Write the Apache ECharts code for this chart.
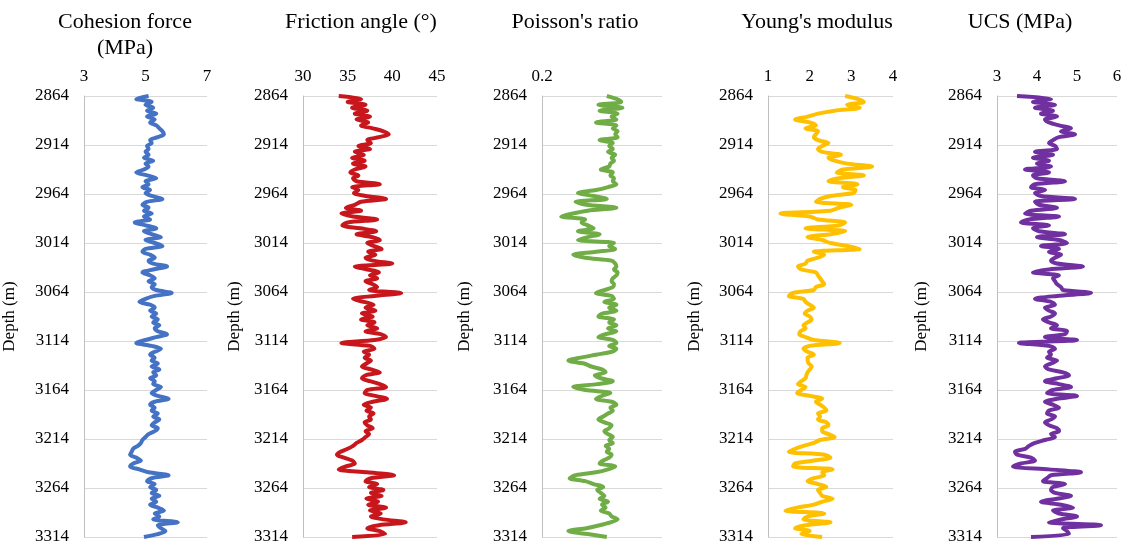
<!DOCTYPE html>
<html>
<head>
<meta charset="utf-8">
<script src="https://cdn.jsdelivr.net/npm/echarts@6/dist/echarts.min.js"></script>
<style>
  html, body { margin: 0; padding: 0; background: #ffffff; }
  #chart { width: 1127px; height: 548px; }
</style>
</head>
<body>
<div id="chart"></div>
<script>
// Well log: depth samples every 3 m from 2864 m to 3314 m
const depthTop = 2864;
const depthBottom = 3314;
const depthStep = 3;
const depths = [];
for (let d = depthTop; d <= depthBottom; d += depthStep) depths.push(d);

// Cohesion force (MPa)
const cohesion = [
  5.1, 4.7, 5.2, 5.0, 5.25, 5.05, 5.35, 5.05, 5.3, 5.15,
  5.35, 5.45, 5.55, 5.6, 5.4, 5.15, 5.2, 5.05, 5.1, 5.0,
  5.1, 4.95, 5.25, 5.0, 5.1, 4.95, 4.7, 5.05, 5.35, 5.0,
  5.1, 4.9, 5.15, 5.0, 5.2, 5.55, 5.05, 4.9, 5.1, 4.95,
  5.2, 4.95, 5.15, 4.65, 5.0, 5.35, 4.95, 5.2, 5.5, 5.0,
  5.3, 5.55, 5.0, 4.9, 5.15, 5.3, 5.1, 5.25, 5.7, 5.25,
  4.9, 5.15, 5.3, 5.1, 5.3, 5.2, 5.35, 5.85, 5.3, 5.0,
  4.8, 5.15, 5.3, 5.15, 5.35, 5.2, 5.4, 5.25, 5.45, 5.3,
  5.4, 5.7, 5.35, 5.0, 4.7, 5.2, 5.5, 5.3, 5.15, 5.3,
  5.2, 5.4, 5.2, 5.45, 5.25, 5.35, 5.15, 5.3, 5.25, 5.5,
  5.35, 5.2, 5.4, 5.75, 5.3, 5.15, 5.3, 5.2, 5.4, 5.25,
  5.45, 5.3, 5.2, 5.4, 5.3, 5.1, 5.0, 4.9, 4.85, 4.75,
  4.6, 4.55, 4.5, 4.7, 4.85, 4.6, 4.5, 4.8, 5.1, 5.75,
  5.2, 5.05, 5.3, 5.15, 5.35, 5.2, 5.45, 5.2, 5.35, 5.15,
  5.4, 5.6, 5.3, 5.45, 5.25, 6.05, 5.4, 5.5, 5.65, 5.4,
  4.95
];

// Friction angle (degrees)
const friction = [
  34.0, 36.5, 35.0, 37.0, 35.5, 37.2, 35.8, 37.5, 36.0, 37.3,
  36.5, 37.8, 39.0, 39.6, 38.5, 37.2, 37.6, 36.2, 37.5, 35.8,
  36.8, 35.5, 36.9, 35.6, 37.0, 35.8, 35.3, 36.2, 35.6, 36.0,
  38.6, 35.5, 36.2, 35.7, 37.0, 39.3, 36.5, 35.8, 34.8, 36.5,
  34.3, 35.6, 38.3, 35.0, 34.4, 36.4, 38.2, 36.0, 37.8, 38.6,
  37.2, 37.9, 38.8, 37.3, 38.1, 37.0, 37.8, 40.0, 35.8, 37.2,
  38.5, 37.5, 38.3, 37.0, 37.8, 38.3, 37.4, 41.0, 38.0, 35.6,
  36.8, 37.9, 37.0, 38.1, 36.6, 37.8, 36.5, 38.0, 37.2, 38.3,
  37.0, 38.7, 39.3, 38.0, 34.3, 37.5, 38.0, 36.8, 37.4, 36.9,
  37.6, 37.1, 36.6, 37.6, 38.6, 37.0, 36.6, 37.5, 38.6, 39.3,
  37.2, 36.9, 38.1, 39.4, 37.8, 36.8, 37.6, 37.1, 37.9, 37.4,
  37.6, 36.9, 37.2, 37.8, 37.0, 37.4, 37.0, 36.6, 36.0, 35.6,
  35.0, 34.2, 33.8, 34.6, 35.5, 35.8, 34.8, 34.0, 37.2, 40.2,
  37.6, 37.0, 38.3, 37.4, 39.0, 37.6, 38.8, 37.1, 38.4, 37.3,
  39.3, 37.5, 38.7, 37.6, 39.0, 41.5, 38.5, 37.2, 38.6, 39.2,
  35.5
];

// Poisson's ratio
const poisson = [
  0.254, 0.262, 0.266, 0.247, 0.267, 0.248, 0.263, 0.258, 0.262, 0.245,
  0.262, 0.259, 0.263, 0.261, 0.263, 0.248, 0.259, 0.256, 0.259, 0.255,
  0.261, 0.258, 0.260, 0.257, 0.256, 0.249, 0.259, 0.257, 0.260, 0.259,
  0.262, 0.255, 0.245, 0.230, 0.243, 0.254, 0.228, 0.237, 0.262, 0.238,
  0.225, 0.216, 0.236, 0.233, 0.238, 0.243, 0.230, 0.248, 0.238, 0.230,
  0.260, 0.256, 0.261, 0.245, 0.226, 0.236, 0.258, 0.261, 0.262, 0.260,
  0.263, 0.262, 0.259, 0.258, 0.260, 0.259, 0.252, 0.245, 0.258, 0.260,
  0.252, 0.262, 0.256, 0.262, 0.250, 0.247, 0.260, 0.256, 0.262, 0.255,
  0.262, 0.253, 0.247, 0.259, 0.262, 0.256, 0.262, 0.258, 0.245, 0.232,
  0.222, 0.235, 0.241, 0.250, 0.253, 0.244, 0.249, 0.259, 0.246, 0.226,
  0.236, 0.257, 0.250, 0.245, 0.258, 0.262, 0.257, 0.259, 0.255, 0.251,
  0.247, 0.252, 0.258, 0.256, 0.252, 0.255, 0.259, 0.256, 0.259, 0.253,
  0.256, 0.254, 0.258, 0.256, 0.251, 0.248, 0.261, 0.255, 0.245, 0.228,
  0.223, 0.236, 0.243, 0.251, 0.246, 0.249, 0.252, 0.248, 0.255, 0.250,
  0.253, 0.249, 0.256, 0.258, 0.263, 0.257, 0.248, 0.237, 0.222, 0.238,
  0.254
];

// Young's modulus
const youngs = [
  2.85, 3.15, 3.3, 2.9, 3.2, 2.6, 2.2, 1.95, 1.65, 2.0,
  2.15, 1.9, 2.2, 2.15, 2.1, 2.2, 2.45, 2.3, 2.2, 2.3,
  2.75, 2.45, 2.6, 2.9, 3.5, 2.8, 2.65, 3.3, 2.7, 2.45,
  3.15, 2.8, 3.1, 3.05, 2.5, 2.25, 2.15, 3.0, 2.7, 2.5,
  1.3, 2.0, 2.2, 2.85, 2.7, 1.9, 2.85, 2.5, 1.95, 2.3,
  2.5, 2.9, 3.2, 2.1, 2.35, 2.2, 1.95, 1.9, 1.72, 1.8,
  2.15, 2.2, 2.25, 2.3, 2.35, 2.15, 2.1, 1.6, 1.5, 1.85,
  1.9, 2.0, 2.1, 1.95, 1.88, 2.0, 2.05, 1.95, 1.85, 1.9,
  1.78, 1.75, 1.9, 2.1, 2.72, 2.0, 1.85, 1.95, 2.1, 1.95,
  1.95, 1.98, 2.05, 2.0, 1.95, 1.92, 1.9, 1.8, 1.72, 1.9,
  1.8, 1.7, 2.0, 2.3, 2.15, 2.25, 2.35, 2.4, 2.2, 2.25,
  2.2, 2.4, 2.45, 2.3, 2.3, 2.45, 2.6, 2.25, 2.1, 1.85,
  1.65, 1.5, 2.35, 2.5, 2.1, 1.65, 1.6, 2.55, 2.3, 2.35,
  2.1, 1.95, 2.2, 2.4, 2.2, 2.25, 2.3, 2.55, 2.3, 2.1,
  1.7, 1.42, 2.35, 1.95, 1.85, 2.5, 1.9, 1.65, 2.0, 1.8,
  2.3
];

// Uniaxial compressive strength (MPa)
const ucs = [
  3.5, 4.35, 3.9, 4.45, 3.95, 4.4, 4.1, 4.5, 4.2, 4.3,
  4.55, 4.85, 4.6, 4.95, 4.55, 4.4, 4.3, 4.45, 4.5, 3.95,
  4.4, 3.9, 4.3, 4.0, 4.35, 3.7, 4.3, 3.9, 4.0, 4.7,
  3.95, 3.85, 4.2, 3.95, 4.1, 4.95, 3.95, 4.05, 4.5, 3.85,
  3.7, 4.55, 3.8, 3.6, 4.3, 3.9, 4.05, 4.7, 4.0, 4.55,
  4.75, 4.1, 4.55, 4.3, 4.6, 4.45, 4.35, 4.5, 5.15, 4.3,
  3.9, 4.55, 4.4, 4.45, 4.5, 4.6, 4.65, 5.35, 4.5, 3.95,
  4.35, 4.45, 4.2, 4.3, 4.45, 4.35, 4.15, 4.3, 4.5, 4.35,
  4.75, 4.7, 4.2, 5.0, 3.55, 4.3, 4.45, 4.3, 4.35, 4.25,
  4.5, 4.35, 4.2, 4.3, 4.65, 4.8, 4.5, 4.2, 4.55, 4.85,
  4.4, 4.25, 5.0, 4.5, 4.2, 4.4, 4.55, 4.3, 4.25, 4.45,
  4.35, 4.2, 4.3, 4.5, 4.55, 4.35, 4.45, 4.2, 3.95, 3.8,
  3.7, 3.45, 3.5, 3.85, 3.95, 3.6, 3.4, 4.3, 5.1, 4.35,
  4.25, 4.15, 4.7, 4.4, 4.35, 4.45, 4.85, 4.5, 4.1, 4.6,
  4.9, 4.4, 4.55, 5.0, 4.6, 4.3, 5.6, 4.65, 4.75, 4.8,
  3.85
];

const titles = [
  ['Cohesion force', '(MPa)'],
  ['Friction angle (°)'],
  ["Poisson's ratio"],
  ["Young's modulus"],
  ['UCS (MPa)']
];
const seriesValues = [cohesion, friction, poisson, youngs, ucs];
const xRanges = [
  { min: 3, max: 7, interval: 2 },
  { min: 30, max: 45, interval: 5 },
  { min: 0.2, max: 0.3, interval: 0.1 },
  { min: 1, max: 4, interval: 1 },
  { min: 3, max: 6, interval: 1 }
];
const colors = ['#4472C4', '#C8161D', '#70AD47', '#FFC000', '#7030A0'];
const depthLabel = 'Depth (m)';

// Track geometry
const trackLeft = [83, 303, 542, 768, 997];
const trackWidth = [124, 134, 120, 125, 120];
const titleCenter = [125, 361, 575, 817, 1020];
const nameGaps = [66, 60, 69, 65, 67];
const plotTop = 96;
const plotHeight = 441;

const FONT = '"Liberation Serif", "Times New Roman", serif';
const textColor = '#000000';

const grids = [], xAxes = [], yAxes = [], series = [], graphics = [];

seriesValues.forEach((vals, i) => {
  grids.push({ left: trackLeft[i], top: plotTop, width: trackWidth[i], height: plotHeight, containLabel: false });

  xAxes.push({
    gridIndex: i,
    type: 'value',
    position: 'top',
    min: xRanges[i].min,
    max: xRanges[i].max,
    interval: xRanges[i].interval,
    axisLine: { show: false },
    axisTick: { show: false },
    splitLine: { show: false },
    axisLabel: {
      fontFamily: FONT, fontSize: 17, color: textColor, margin: 11,
      showMaxLabel: i !== 2,
      formatter: (v) => String(Math.round(v * 1000) / 1000)
    }
  });

  yAxes.push({
    gridIndex: i,
    type: 'value',
    inverse: true,
    min: depthTop,
    max: depthBottom,
    interval: 50,
    name: depthLabel,
    nameLocation: 'middle',
    nameGap: nameGaps[i],
    nameTextStyle: { fontFamily: FONT, fontSize: 17, color: textColor },
    axisLine: { show: true, lineStyle: { color: '#bfbfbf', width: 1 } },
    axisTick: { show: false },
    axisLabel: {
      fontFamily: FONT, fontSize: 17, color: textColor, margin: 15,
      formatter: (v) => String(v)
    },
    splitLine: { show: true, lineStyle: { color: '#d9d9d9', width: 1 } }
  });

  series.push({
    type: 'line',
    xAxisIndex: i,
    yAxisIndex: i,
    data: vals.map((v, k) => [v, depths[k]]),
    symbol: 'none',
    smooth: 0.3,
    lineStyle: { color: colors[i], width: 4 },
    itemStyle: { color: colors[i] }
  });

  titles[i].forEach((line, j) => {
    graphics.push({
      type: 'text',
      x: titleCenter[i],
      y: 22 + j * 26,
      style: {
        text: line,
        font: '22px ' + FONT,
        fill: textColor,
        textAlign: 'center',
        textVerticalAlign: 'middle'
      }
    });
  });
});

const chart = echarts.init(document.getElementById('chart'), null, { renderer: 'canvas' });
chart.setOption({
  backgroundColor: '#ffffff',
  animation: false,
  grid: grids,
  xAxis: xAxes,
  yAxis: yAxes,
  series: series,
  graphic: graphics
});
</script>
</body>
</html>
